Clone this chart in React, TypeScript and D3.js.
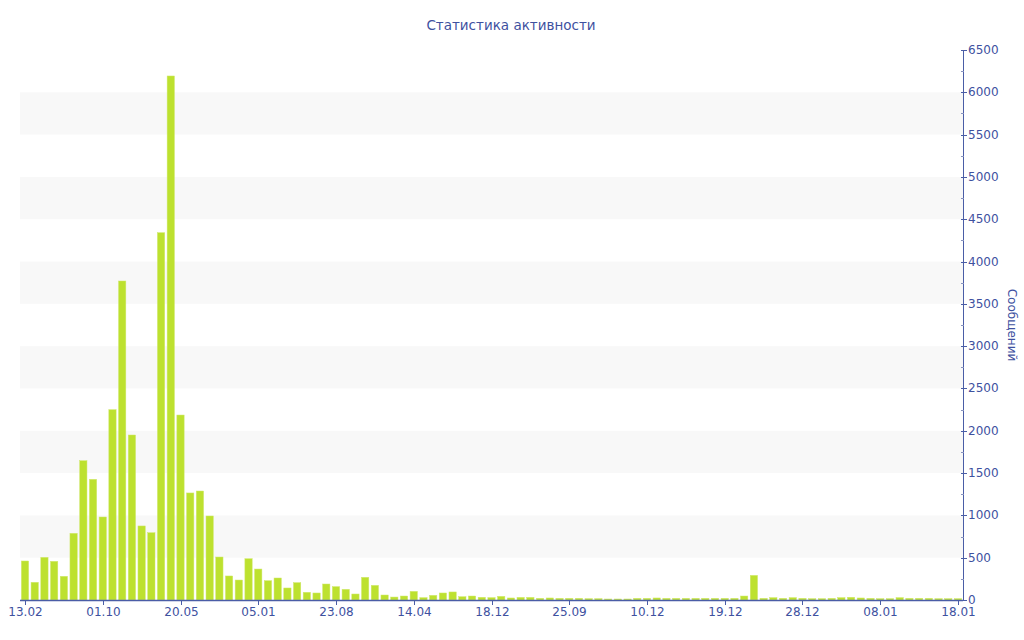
import React from "react";
import * as d3 from "d3";

const title = "Статистика активности";
const yAxisTitle = "Сообщений";

const messageCounts: number[] = [
  461, 209, 504, 457, 280, 788, 1646, 1426, 981, 2249,
  3770, 1950, 875, 795, 4341, 6193, 2186, 1265, 1288, 993,
  508, 284, 236, 488, 366, 228, 260, 142, 205, 91,
  83, 189, 158, 126, 71, 268, 173, 59, 35, 47,
  102, 28, 55, 83, 95, 39, 47, 32, 28, 43,
  24, 31, 31, 20, 24, 20, 20, 20, 16, 16,
  12, 12, 12, 20, 20, 24, 20, 20, 20, 20,
  20, 20, 20, 20, 47, 291, 20, 28, 20, 28,
  20, 16, 16, 20, 28, 32, 24, 20, 16, 16,
  28, 20, 20, 20, 16, 16, 16,
];

const tickLabels: string[] = [
  "13.02", "01.10", "20.05", "05.01", "23.08", "14.04", "18.12",
  "25.09", "10.12", "19.12", "28.12", "08.01", "18.01",
];
const tickEvery = 8;

const yMajorTicks: number[] = d3.range(0, 6501, 500);
const yMinorTicks: number[] = d3.range(250, 6500, 500);

const W = 1024;
const H = 640;
const left = 20;
const right = 963;
const top = 50;
const bottom = 600;

const textColor = "#3e519f";
const axisColor = "#4a5da6";
const barColor = "#bde12f";
const stripeColor = "#f8f8f8";
const font = "'DejaVu Sans', Verdana, sans-serif";

export default function App() {
  const idx = messageCounts.map((_, i) => i);
  const x = d3.scaleBand<number>().domain(idx).range([left, right]).paddingInner(0.25).paddingOuter(0.14);
  const y = d3.scaleLinear().domain([0, 6500]).range([bottom, top]);
  const bw = x.bandwidth();

  const stripes = d3.range(500, 6500, 1000);

  return (
    <svg width={W} height={H} style={{ position: "absolute", left: 0, top: 0, background: "#fff" }}>
      {stripes.map((s) => (
        <rect key={s} x={left} width={right - left} y={y(s + 500)} height={y(s) - y(s + 500)} fill={stripeColor} />
      ))}
      {messageCounts.map((v, i) => (
        <rect key={i} x={x(i)} width={bw} y={y(v)} height={bottom - y(v)} fill={barColor} stroke="#cfe86a" strokeWidth={0.5} />
      ))}
      <line x1={left} x2={right} y1={bottom + 0.5} y2={bottom + 0.5} stroke={axisColor} strokeWidth={1.5} />
      {tickLabels.map((lab, k) => {
        const i = k * tickEvery;
        const cx = Math.round((x(i) as number) + bw / 2) + 0.5;
        return (
          <g key={lab + k}>
            <line x1={cx} x2={cx} y1={bottom} y2={bottom + 5} stroke={axisColor} />
            <text x={cx} y={bottom + 16} textAnchor="middle" fontFamily={font} fontSize={12} fill={textColor}>
              {lab}
            </text>
          </g>
        );
      })}
      <line x1={right + 0.5} x2={right + 0.5} y1={top} y2={bottom} stroke={axisColor} strokeWidth={1} />
      {yMajorTicks.map((t) => (
        <g key={t}>
          <line x1={right - 2} x2={right + 4} y1={Math.round(y(t)) + 0.5} y2={Math.round(y(t)) + 0.5} stroke={axisColor} />
          <text x={right + 5} y={y(t) + 4} fontFamily={font} fontSize={12} fill={textColor}>
            {t}
          </text>
        </g>
      ))}
      {yMinorTicks.map((t) => (
        <line key={t} x1={right - 2} x2={right + 1} y1={Math.round(y(t)) + 0.5} y2={Math.round(y(t)) + 0.5} stroke="#8893bf" />
      ))}
      <text
        transform={`translate(${1008},${325}) rotate(90)`}
        textAnchor="middle"
        fontFamily={font}
        fontSize={12}
        fill={textColor}
      >
        {yAxisTitle}
      </text>
      <text x={511} y={30} textAnchor="middle" fontFamily={font} fontSize={13.5} fill={textColor}>
        {title}
      </text>
    </svg>
  );
}
